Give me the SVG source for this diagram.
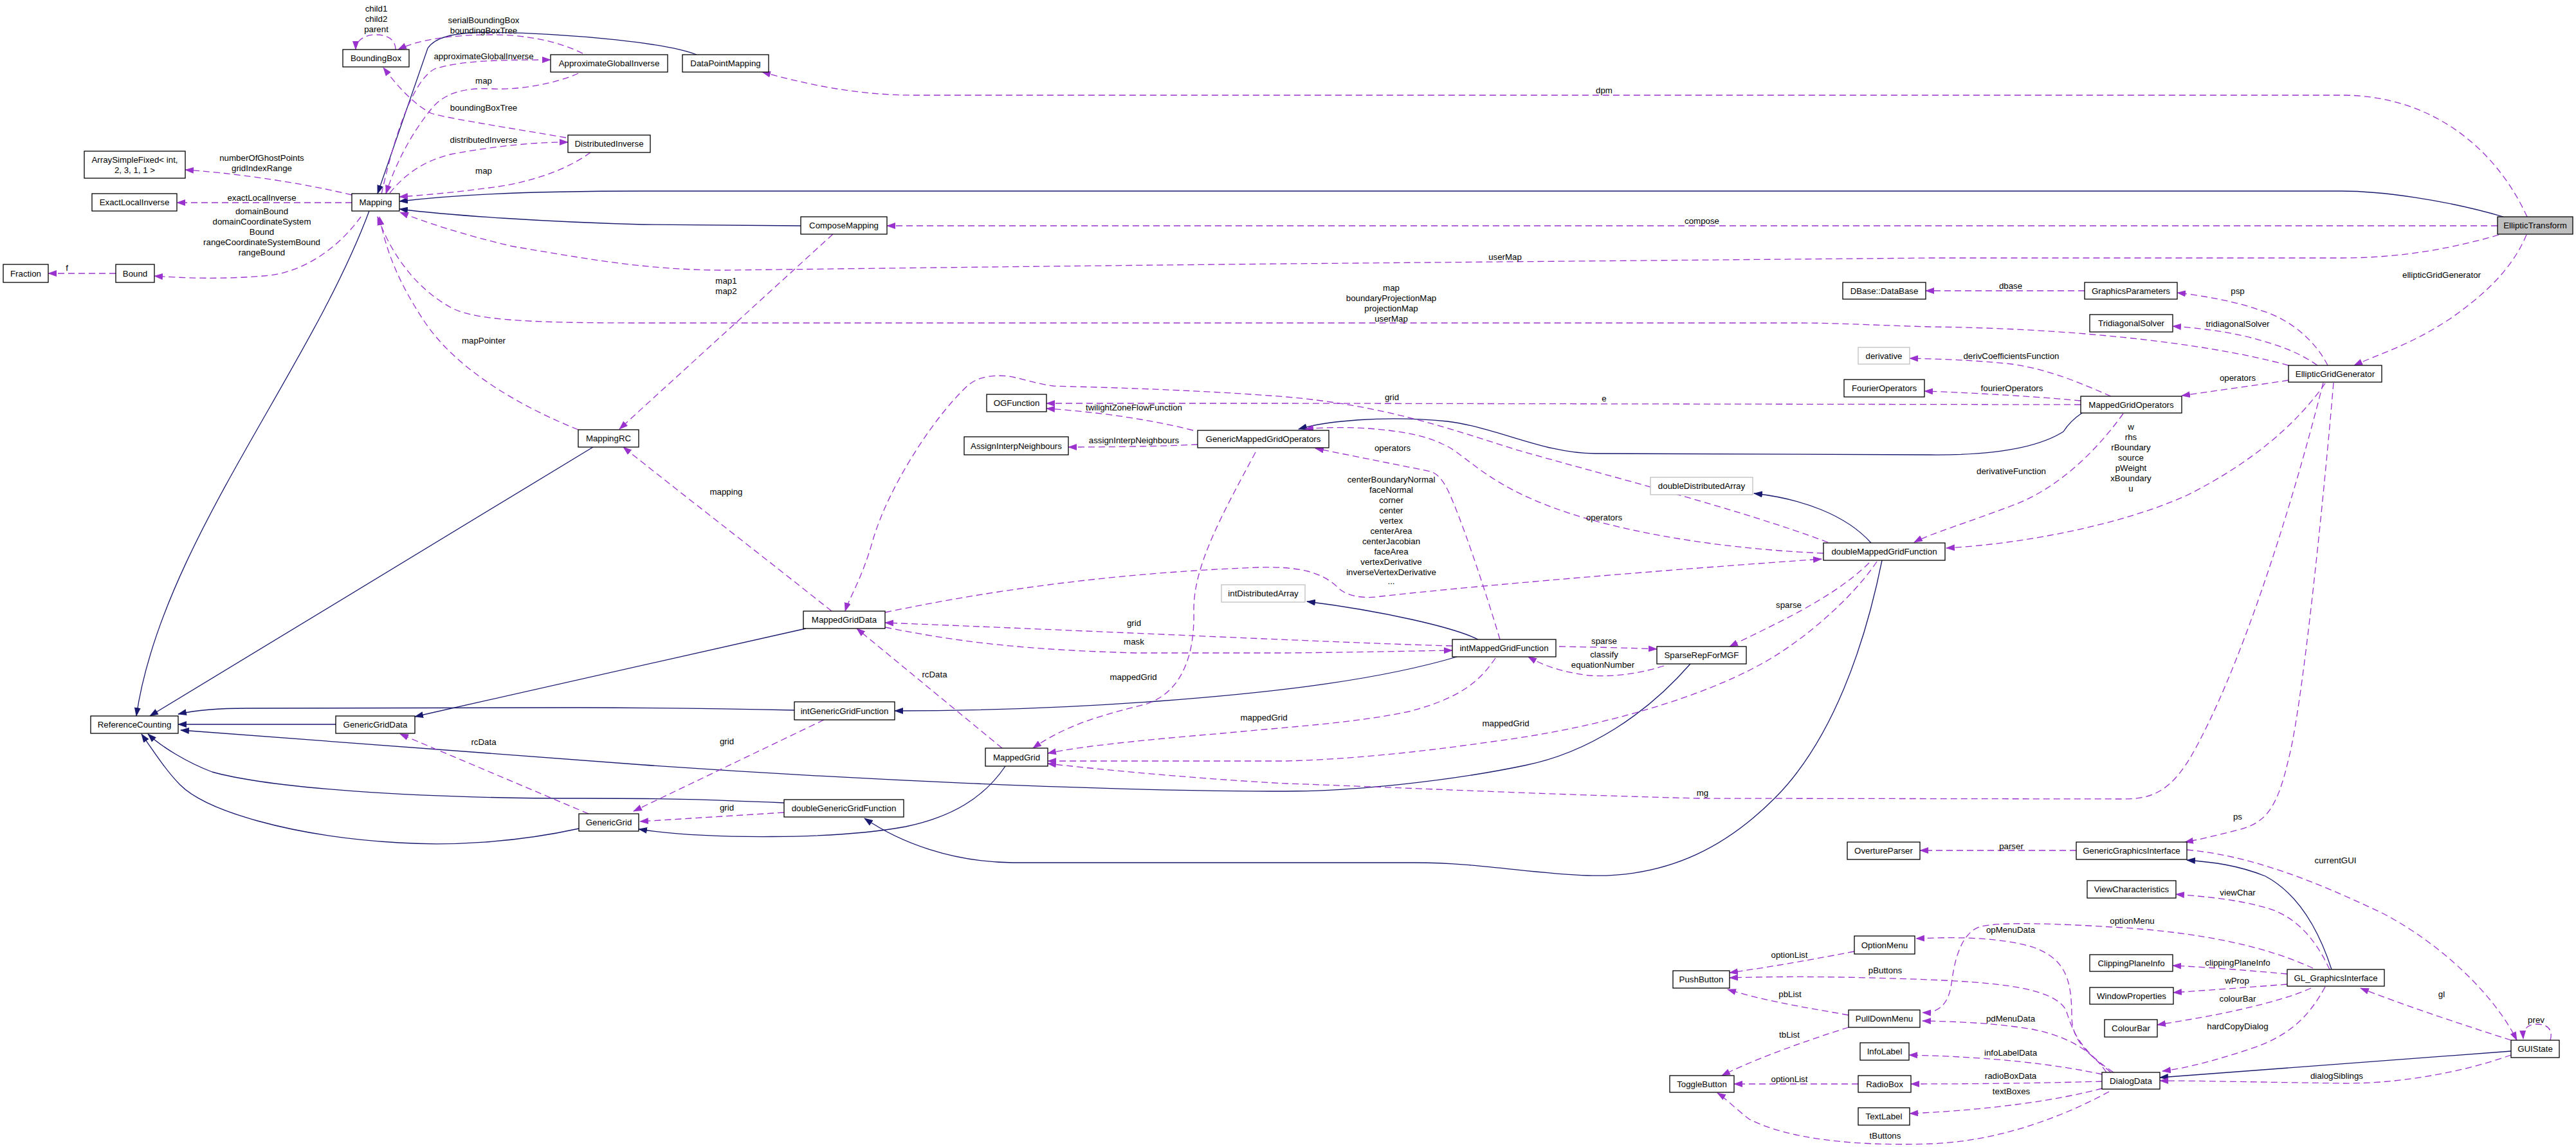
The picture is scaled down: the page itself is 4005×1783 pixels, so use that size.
<svg xmlns="http://www.w3.org/2000/svg" width="4005" height="1783" viewBox="0 0 4005 1783">
<defs>
<marker id="ap" markerUnits="userSpaceOnUse" markerWidth="14" markerHeight="10" refX="13" refY="5" orient="auto"><path d="M0,0 L14,5 L0,10 z" fill="#9a32cd"/></marker>
<marker id="ab" markerUnits="userSpaceOnUse" markerWidth="14" markerHeight="10" refX="13" refY="5" orient="auto"><path d="M0,0 L14,5 L0,10 z" fill="#191970"/></marker>
</defs>
<style>
.n rect{fill:#fff;stroke:#000;stroke-width:1.3}
.n.root rect{fill:#bfbfbf}
.n.gr rect{stroke:#bfbfbf}
text{font-family:"Liberation Sans",Arial,sans-serif;font-size:13.3px;fill:#000;text-anchor:middle}
.e path{fill:none;stroke:#9a32cd;stroke-width:1.3;stroke-dasharray:10,6;marker-end:url(#ap)}
.i path{fill:none;stroke:#191970;stroke-width:1.3;marker-end:url(#ab)}
</style>
<rect width="4005" height="1783" fill="#fff"/>
<g id="edges">
<g class="i">
<path d="M1083,85 C1040,68 900,52 760,50 C700,50 675,60 665,75 L587,301"/>
<path d="M3892,337 C3800,310 3700,297 3640,297 L1000,297 C800,297 700,304 621,313"/>
<path d="M1245,351 L1000,349 C850,345 700,335 621,325"/>
<path d="M574,328 C480,580 250,850 212,1113"/>
<path d="M922,695 L233,1113"/>
<path d="M522,1126 L277,1126"/>
<path d="M1253,977 L645,1114"/>
<path d="M1235,1104 C1100,1101 1000,1100 900,1100 L383,1101 C330,1101 300,1105 277,1110"/>
<path d="M2265,1021 C2150,1055 2000,1075 1800,1090 C1600,1105 1450,1105 1391,1105"/>
<path d="M2298,994 C2260,975 2150,950 2032,935"/>
<path d="M2909,844 C2870,800 2800,775 2727,767"/>
<path d="M2926,871 C2900,1000 2850,1150 2759,1241 C2690,1310 2600,1365 2469,1361 C2380,1358 2300,1341 2200,1341 L1574,1341 C1480,1340 1400,1310 1344,1272"/>
<path d="M1219,1248 C1100,1243 1050,1241 900,1241 C640,1241 420,1225 330,1200 C290,1185 250,1160 230,1141"/>
<path d="M900,1288 C800,1310 700,1315 620,1310 C450,1300 320,1260 280,1220 C260,1200 240,1170 220,1141"/>
<path d="M1563,1191 C1530,1240 1480,1270 1408,1285 C1300,1305 1100,1305 993,1289"/>
<path d="M2628,1032 C2560,1110 2470,1170 2370,1190 C2250,1215 2100,1230 2000,1230 C1700,1230 1300,1210 1000,1189 L281,1135"/>
<path d="M3237,642 C3225,650 3215,660 3208,671 C3170,695 3100,708 3000,707 L2480,705 C2400,705 2330,665 2250,655 C2150,645 2060,655 2019,667"/>
<path d="M3625,1507 C3600,1430 3565,1385 3522,1362 C3480,1345 3440,1340 3400,1337"/>
<path d="M3904,1634 L3358,1675"/>
</g>
<g class="e">
<path d="M615,77 C615,60 600,54 584,54 C568,54 553,62 553,77"/>
<path d="M906,83 C870,65 820,54 765,54 C700,54 650,62 619,77"/>
<path d="M593,302 C620,180 650,120 676,107 C720,93 790,93 856,93"/>
<path d="M899,114 C860,132 800,140 765,138 C720,136 690,145 670,170 C630,220 610,270 600,301"/>
<path d="M880,214 C800,200 700,185 670,176 C640,160 615,130 596,105"/>
<path d="M606,300 C630,270 660,250 700,240 C780,225 840,221 883,221"/>
<path d="M918,237 C880,265 820,285 760,292 C700,300 650,304 621,306"/>
<path d="M547,303 C450,280 350,268 288,264"/>
<path d="M547,315 L275,315"/>
<path d="M561,337 C530,380 480,420 420,428 C350,435 280,432 240,429"/>
<path d="M180,425 L75,425"/>
<path d="M3929,337 C3880,230 3780,148 3641,148 L1421,148 C1330,148 1250,130 1185,112"/>
<path d="M3883,351 L1379,351"/>
<path d="M3885,365 C3800,390 3720,401 3641,401 L3000,401 L2000,410 C1600,414 1300,418 1128,420 C1000,420 900,400 797,383 C720,365 660,345 622,330"/>
<path d="M1295,364 L963,667"/>
<path d="M3928,365 C3905,420 3860,460 3810,495 C3750,535 3700,550 3660,568"/>
<path d="M3558,568 C3420,530 3200,510 3000,508 C2900,505 2850,502 2800,502 L1000,502 C850,502 740,500 701,478 C650,450 610,400 587,337"/>
<path d="M899,668 C780,620 700,560 660,500 C620,440 600,390 590,337"/>
<path d="M3619,568 C3600,530 3560,495 3513,482 C3480,470 3430,460 3385,455"/>
<path d="M3603,568 C3570,545 3540,536 3500,525 C3460,515 3420,510 3378,507"/>
<path d="M3241,452 L2994,452"/>
<path d="M3558,591 C3500,600 3440,608 3392,615"/>
<path d="M3282,616 C3240,598 3190,575 3128,566 C3070,560 3020,558 2969,557"/>
<path d="M3235,623 C3150,615 3050,610 2992,608"/>
<path d="M3235,629 L2000,627 L1627,627"/>
<path d="M1855,669 C1780,650 1700,640 1627,635"/>
<path d="M1862,691 C1800,694 1720,695 1661,695"/>
<path d="M2842,843 C2700,790 2500,740 2357,699 C2250,665 2150,630 2000,617 C1850,605 1700,602 1638,600 C1600,595 1580,584 1555,584 C1530,584 1515,590 1504,600 C1450,650 1380,760 1357,840 C1340,900 1320,930 1314,950"/>
<path d="M2835,860 C2650,852 2480,820 2380,775 C2300,740 2270,700 2242,690 C2200,668 2100,660 2029,667"/>
<path d="M2332,994 C2310,920 2270,800 2250,760 C2240,740 2230,735 2225,733 L2045,697"/>
<path d="M1952,703 C1900,800 1855,880 1856,950 C1858,1030 1830,1080 1780,1095 C1720,1110 1660,1125 1606,1163"/>
<path d="M2325,1023 C2300,1060 2270,1085 2191,1106 C2100,1125 2000,1130 1900,1140 C1780,1150 1680,1160 1629,1171"/>
<path d="M2918,873 C2880,930 2800,1000 2733,1035 C2650,1080 2500,1130 2319,1153 C2200,1170 2100,1180 2000,1183 L1629,1183"/>
<path d="M3612,595 C3560,800 3480,1050 3404,1180 C3370,1235 3340,1242 3300,1242 L2638,1241 C2400,1235 2200,1225 2000,1218 C1850,1210 1700,1195 1629,1187"/>
<path d="M3628,595 C3615,750 3580,1100 3558,1180 C3540,1260 3520,1280 3480,1290 C3440,1300 3420,1305 3397,1309"/>
<path d="M3615,596 C3570,660 3500,720 3400,770 C3300,815 3150,845 3026,852"/>
<path d="M3301,643 C3260,700 3200,760 3128,786 C3060,812 3000,830 2976,843"/>
<path d="M2906,875 C2850,930 2760,970 2689,1005"/>
<path d="M2424,1005 C2480,1006 2530,1007 2576,1009"/>
<path d="M2587,1035 C2540,1050 2500,1052 2470,1050 C2430,1045 2400,1035 2376,1021"/>
<path d="M2258,1004 C2100,1000 1800,985 1376,968"/>
<path d="M1376,975 C1500,1000 1600,1010 1765,1015 L2000,1015 C2100,1014 2200,1012 2258,1011"/>
<path d="M1376,952 C1600,905 1800,888 1957,882 C2030,880 2060,893 2083,916 C2100,930 2130,930 2147,927 C2300,910 2600,885 2832,869"/>
<path d="M1558,1163 L1332,977"/>
<path d="M1293,950 C1180,860 1050,760 969,695"/>
<path d="M915,1265 L622,1141"/>
<path d="M1281,1119 L985,1261"/>
<path d="M1219,1263 L995,1277"/>
<path d="M3228,1322 L2985,1322"/>
<path d="M3400,1321 C3500,1330 3600,1370 3705,1420 C3800,1470 3880,1550 3913,1617"/>
<path d="M3622,1507 C3600,1460 3570,1425 3526,1412 C3480,1398 3430,1394 3383,1390"/>
<path d="M3596,1505 C3520,1470 3420,1450 3300,1442 C3200,1436 3110,1432 3077,1441 C3040,1455 3036,1520 3033,1535 C3028,1560 3015,1575 2989,1574"/>
<path d="M3282,1667 C3250,1640 3221,1620 3221,1580 C3221,1520 3210,1490 3160,1472 C3100,1455 3030,1457 2979,1459"/>
<path d="M3275,1667 C3250,1630 3210,1610 3160,1600 C3100,1590 3040,1588 2989,1587"/>
<path d="M3286,1667 C3230,1630 3222,1600 3212,1570 C3195,1540 3130,1528 3000,1523 C2850,1517 2750,1518 2689,1520"/>
<path d="M2883,1479 C2800,1495 2740,1505 2689,1512"/>
<path d="M2874,1578 C2800,1565 2740,1555 2686,1538"/>
<path d="M2874,1597 C2800,1620 2720,1650 2677,1672"/>
<path d="M2889,1685 L2696,1685"/>
<path d="M3279,1697 C3200,1740 3100,1775 3000,1778 C2880,1782 2780,1770 2720,1740 C2700,1725 2680,1705 2670,1699"/>
<path d="M3268,1670 C3200,1655 3100,1643 2968,1640"/>
<path d="M3268,1681 C3200,1683 3100,1685 2971,1685"/>
<path d="M3268,1692 C3200,1710 3100,1725 2969,1731"/>
<path d="M3556,1514 C3480,1507 3420,1503 3378,1501"/>
<path d="M3556,1530 C3480,1536 3420,1540 3379,1543"/>
<path d="M3593,1536 C3540,1560 3440,1580 3354,1593"/>
<path d="M3615,1534 C3590,1580 3560,1610 3500,1630 C3440,1650 3400,1660 3362,1665"/>
<path d="M3904,1617 C3820,1590 3730,1560 3670,1536"/>
<path d="M3965,1617 C3970,1600 3960,1592 3944,1592 C3930,1592 3922,1600 3923,1615"/>
<path d="M3904,1640 C3820,1670 3720,1685 3641,1684 C3500,1682 3420,1680 3358,1680"/>
</g>
<g id="edge-labels">
<text x="585" y="18">child1</text><text x="585" y="34">child2</text><text x="585" y="50">parent</text>
<text x="752" y="36">serialBoundingBox</text><text x="752" y="52">boundingBoxTree</text>
<text x="752" y="92">approximateGlobalInverse</text>
<text x="752" y="130">map</text>
<text x="752" y="172">boundingBoxTree</text>
<text x="752" y="222">distributedInverse</text>
<text x="752" y="270">map</text>
<text x="407" y="250">numberOfGhostPoints</text><text x="407" y="266">gridIndexRange</text>
<text x="407" y="312">exactLocalInverse</text>
<text x="407" y="333">domainBound</text><text x="407" y="349">domainCoordinateSystem</text><text x="407" y="365">Bound</text><text x="407" y="381">rangeCoordinateSystemBound</text><text x="407" y="397">rangeBound</text>
<text x="104" y="421">f</text>
<text x="752" y="534">mapPointer</text>
<text x="2494" y="145">dpm</text>
<text x="2646" y="348">compose</text>
<text x="2340" y="404">userMap</text>
<text x="1129" y="441">map1</text><text x="1129" y="457">map2</text>
<text x="2163" y="452">map</text><text x="2163" y="468">boundaryProjectionMap</text><text x="2163" y="484">projectionMap</text><text x="2163" y="500">userMap</text>
<text x="3796" y="432">ellipticGridGenerator</text>
<text x="3126" y="449">dbase</text>
<text x="3479" y="457">psp</text>
<text x="3479" y="508">tridiagonalSolver</text>
<text x="3127" y="558">derivCoefficientsFunction</text>
<text x="3479" y="592">operators</text>
<text x="3128" y="608">fourierOperators</text>
<text x="3127" y="737">derivativeFunction</text>
<text x="3313" y="668">w</text><text x="3313" y="684">rhs</text><text x="3313" y="700">rBoundary</text><text x="3313" y="716">source</text><text x="3313" y="732">pWeight</text><text x="3313" y="748">xBoundary</text><text x="3313" y="764">u</text>
<text x="2164" y="622">grid</text>
<text x="2494" y="624">e</text>
<text x="1763" y="638">twilightZoneFlowFunction</text>
<text x="1763" y="689">assignInterpNeighbours</text>
<text x="2165" y="701">operators</text>
<text x="2494" y="809">operators</text>
<text x="2163" y="750">centerBoundaryNormal</text><text x="2163" y="766">faceNormal</text><text x="2163" y="782">corner</text><text x="2163" y="798">center</text><text x="2163" y="814">vertex</text><text x="2163" y="830">centerArea</text><text x="2163" y="846">centerJacobian</text><text x="2163" y="862">faceArea</text><text x="2163" y="878">vertexDerivative</text><text x="2163" y="894">inverseVertexDerivative</text><text x="2163" y="908">...</text>
<text x="1129" y="769">mapping</text>
<text x="2781" y="945">sparse</text>
<text x="2494" y="1001">sparse</text><text x="2494" y="1022">classify</text><text x="2492" y="1038">equationNumber</text>
<text x="1763" y="973">grid</text>
<text x="1763" y="1002">mask</text>
<text x="1453" y="1053">rcData</text>
<text x="1762" y="1057">mappedGrid</text>
<text x="1965" y="1120">mappedGrid</text>
<text x="2341" y="1129">mappedGrid</text>
<text x="1130" y="1157">grid</text>
<text x="752" y="1158">rcData</text>
<text x="2647" y="1237">mg</text>
<text x="1130" y="1260">grid</text>
<text x="3479" y="1274">ps</text>
<text x="3127" y="1320">parser</text>
<text x="3631" y="1342">currentGUI</text>
<text x="3479" y="1392">viewChar</text>
<text x="3315" y="1436">optionMenu</text>
<text x="3126" y="1450">opMenuData</text>
<text x="2782" y="1489">optionList</text>
<text x="2931" y="1513">pButtons</text>
<text x="3479" y="1501">clippingPlaneInfo</text>
<text x="3478" y="1529">wProp</text>
<text x="2783" y="1550">pbList</text>
<text x="3796" y="1550">gl</text>
<text x="3479" y="1557">colourBar</text>
<text x="3126" y="1588">pdMenuData</text>
<text x="3943" y="1590">prev</text>
<text x="3479" y="1600">hardCopyDialog</text>
<text x="2782" y="1613">tbList</text>
<text x="3126" y="1641">infoLabelData</text>
<text x="2782" y="1682">optionList</text>
<text x="3126" y="1677">radioBoxData</text>
<text x="3633" y="1677">dialogSiblings</text>
<text x="3127" y="1701">textBoxes</text>
<text x="2931" y="1770">tButtons</text>
</g>
</g>
<g id="nodes">
<g id="BoundingBox" class="n"><rect x="533" y="77" width="103" height="27"/><text x="584.5" y="95">BoundingBox</text></g>
<g id="ApproximateGlobalInverse" class="n"><rect x="856" y="85" width="182" height="27"/><text x="947" y="103">ApproximateGlobalInverse</text></g>
<g id="DataPointMapping" class="n"><rect x="1061" y="85" width="134" height="27"/><text x="1128" y="103">DataPointMapping</text></g>
<g id="DistributedInverse" class="n"><rect x="883" y="210" width="128" height="27"/><text x="947" y="228">DistributedInverse</text></g>
<g id="ArraySimpleFixed" class="n"><rect x="131" y="235" width="157" height="42"/><text x="209.5" y="253">ArraySimpleFixed&lt; int,</text><text x="209.5" y="269">2, 3, 1, 1 &gt;</text></g>
<g id="ExactLocalInverse" class="n"><rect x="143" y="301" width="132" height="27"/><text x="209" y="319">ExactLocalInverse</text></g>
<g id="Mapping" class="n"><rect x="547" y="301" width="74" height="27"/><text x="584" y="319">Mapping</text></g>
<g id="Fraction" class="n"><rect x="5" y="411" width="70" height="28"/><text x="40" y="430">Fraction</text></g>
<g id="Bound" class="n"><rect x="180" y="411" width="60" height="28"/><text x="210" y="430">Bound</text></g>
<g id="ComposeMapping" class="n"><rect x="1245" y="337" width="134" height="27"/><text x="1312" y="355">ComposeMapping</text></g>
<g id="EllipticTransform" class="n root"><rect x="3883" y="337" width="117" height="27"/><text x="3941.5" y="355">EllipticTransform</text></g>
<g id="DBaseDataBase" class="n"><rect x="2865" y="439" width="129" height="26"/><text x="2929.5" y="456.5">DBase::DataBase</text></g>
<g id="GraphicsParameters" class="n"><rect x="3241" y="439" width="144" height="26"/><text x="3313" y="456.5">GraphicsParameters</text></g>
<g id="TridiagonalSolver" class="n"><rect x="3249" y="489" width="129" height="27"/><text x="3313.5" y="507">TridiagonalSolver</text></g>
<g id="derivative" class="n gr"><rect x="2889" y="540" width="80" height="26"/><text x="2929" y="557.5">derivative</text></g>
<g id="EllipticGridGenerator" class="n"><rect x="3558" y="568" width="145" height="26"/><text x="3630.5" y="585.5">EllipticGridGenerator</text></g>
<g id="FourierOperators" class="n"><rect x="2867" y="590" width="125" height="27"/><text x="2929.5" y="608">FourierOperators</text></g>
<g id="MappedGridOperators" class="n"><rect x="3235" y="616" width="157" height="26"/><text x="3313.5" y="633.5">MappedGridOperators</text></g>
<g id="OGFunction" class="n"><rect x="1534" y="613" width="93" height="27"/><text x="1580.5" y="631">OGFunction</text></g>
<g id="MappingRC" class="n"><rect x="899" y="668" width="94" height="27"/><text x="946" y="686">MappingRC</text></g>
<g id="AssignInterpNeighbours" class="n"><rect x="1499" y="679" width="162" height="28"/><text x="1580" y="697.5">AssignInterpNeighbours</text></g>
<g id="GenericMappedGridOperators" class="n"><rect x="1862" y="669" width="204" height="27"/><text x="1964" y="687">GenericMappedGridOperators</text></g>
<g id="doubleDistributedArray" class="n gr"><rect x="2566" y="742" width="159" height="27"/><text x="2645.5" y="760">doubleDistributedArray</text></g>
<g id="doubleMappedGridFunction" class="n"><rect x="2835" y="844" width="189" height="27"/><text x="2929.5" y="862">doubleMappedGridFunction</text></g>
<g id="intDistributedArray" class="n gr"><rect x="1899" y="909" width="130" height="27"/><text x="1964" y="927">intDistributedArray</text></g>
<g id="MappedGridData" class="n"><rect x="1249" y="950" width="127" height="27"/><text x="1312.5" y="968">MappedGridData</text></g>
<g id="intMappedGridFunction" class="n"><rect x="2258" y="994" width="161" height="27"/><text x="2338.5" y="1012">intMappedGridFunction</text></g>
<g id="SparseRepForMGF" class="n"><rect x="2576" y="1005" width="139" height="27"/><text x="2645.5" y="1023">SparseRepForMGF</text></g>
<g id="intGenericGridFunction" class="n"><rect x="1235" y="1091" width="156" height="28"/><text x="1313" y="1109.5">intGenericGridFunction</text></g>
<g id="ReferenceCounting" class="n"><rect x="141" y="1113" width="136" height="27"/><text x="209" y="1131">ReferenceCounting</text></g>
<g id="GenericGridData" class="n"><rect x="522" y="1113" width="123" height="27"/><text x="583.5" y="1131">GenericGridData</text></g>
<g id="MappedGrid" class="n"><rect x="1532" y="1163" width="97" height="28"/><text x="1580.5" y="1181.5">MappedGrid</text></g>
<g id="doubleGenericGridFunction" class="n"><rect x="1219" y="1243" width="186" height="27"/><text x="1312" y="1261">doubleGenericGridFunction</text></g>
<g id="GenericGrid" class="n"><rect x="900" y="1265" width="93" height="27"/><text x="946.5" y="1283">GenericGrid</text></g>
<g id="OvertureParser" class="n"><rect x="2872" y="1309" width="113" height="27"/><text x="2928.5" y="1327">OvertureParser</text></g>
<g id="GenericGraphicsInterface" class="n"><rect x="3228" y="1309" width="172" height="27"/><text x="3314" y="1327">GenericGraphicsInterface</text></g>
<g id="ViewCharacteristics" class="n"><rect x="3245" y="1369" width="138" height="27"/><text x="3314" y="1387">ViewCharacteristics</text></g>
<g id="OptionMenu" class="n"><rect x="2883" y="1455" width="94" height="28"/><text x="2930" y="1473.5">OptionMenu</text></g>
<g id="ClippingPlaneInfo" class="n"><rect x="3249" y="1484" width="129" height="26"/><text x="3313.5" y="1501.5">ClippingPlaneInfo</text></g>
<g id="GL_GraphicsInterface" class="n"><rect x="3556" y="1507" width="151" height="26"/><text x="3631.5" y="1524.5">GL_GraphicsInterface</text></g>
<g id="PushButton" class="n"><rect x="2601" y="1509" width="88" height="27"/><text x="2645" y="1527">PushButton</text></g>
<g id="WindowProperties" class="n"><rect x="3249" y="1535" width="130" height="26"/><text x="3314" y="1552.5">WindowProperties</text></g>
<g id="PullDownMenu" class="n"><rect x="2874" y="1570" width="111" height="27"/><text x="2929.5" y="1588">PullDownMenu</text></g>
<g id="ColourBar" class="n"><rect x="3272" y="1585" width="82" height="27"/><text x="3313" y="1603">ColourBar</text></g>
<g id="GUIState" class="n"><rect x="3904" y="1617" width="75" height="27"/><text x="3941.5" y="1635">GUIState</text></g>
<g id="InfoLabel" class="n"><rect x="2892" y="1621" width="76" height="27"/><text x="2930" y="1639">InfoLabel</text></g>
<g id="DialogData" class="n"><rect x="3268" y="1667" width="90" height="26"/><text x="3313" y="1684.5">DialogData</text></g>
<g id="ToggleButton" class="n"><rect x="2596" y="1672" width="100" height="26"/><text x="2646" y="1689.5">ToggleButton</text></g>
<g id="RadioBox" class="n"><rect x="2889" y="1672" width="82" height="26"/><text x="2930" y="1689.5">RadioBox</text></g>
<g id="TextLabel" class="n"><rect x="2889" y="1722" width="80" height="27"/><text x="2929" y="1740">TextLabel</text></g>
</g>
</svg>
